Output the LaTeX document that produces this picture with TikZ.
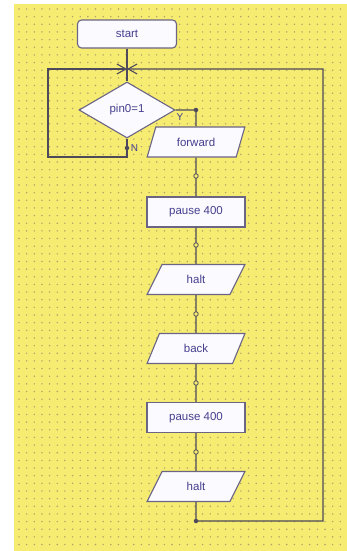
\documentclass[tikz,border=0pt]{standalone}
\usepackage{fontspec}
\setmainfont{Liberation Sans}
\usetikzlibrary{shapes.geometric,arrows.meta}
\definecolor{bgyellow}{HTML}{F6EC72}
\definecolor{griddot}{HTML}{ABA26C}
\definecolor{linec}{HTML}{4E4A5C}
\definecolor{shapec}{HTML}{6B6484}
\definecolor{textc}{HTML}{453E8E}
\definecolor{shapefill}{HTML}{FBFBFF}
\begin{document}
\begin{tikzpicture}[x=1pt,y=-1pt,
  box/.style={draw=shapec, line width=1.1pt, fill=shapefill, text=textc,
    font=\fontsize{11.5}{13}\selectfont, inner sep=0pt},
  termbox/.style={box, rectangle, rounded corners=4pt, minimum width=99pt, minimum height=28pt},
  procbox/.style={box, rectangle, minimum width=98pt, minimum height=30pt},
  iobox/.style={box, trapezium, trapezium left angle=64, trapezium right angle=116,
    trapezium stretches=true, minimum width=98pt, minimum height=30pt},
  decbox/.style={box, diamond, aspect=1.7, minimum width=96pt, minimum height=56pt},
  flow/.style={draw=linec, line width=1.1pt},
  meet/.style={flow, -{Straight Barb[length=9pt,width=10pt]}},
  ringjoint/.style={circle, draw=linec, line width=0.8pt, fill=bgyellow, inner sep=0pt, minimum size=4.5pt},
  dotjoint/.style={circle, fill=linec, inner sep=0pt, minimum size=4.5pt},
  lbl/.style={text=textc, font=\fontsize{10}{11}\selectfont, inner sep=0pt}
]
\useasboundingbox (0,0) rectangle (347,551);
\fill[white] (0,0) rectangle (347,551);
\fill[bgyellow] (14,4) rectangle (347,551);
\foreach \i in {0,...,42}{
  \foreach \j in {0,...,70}{
    \fill[griddot] ({19+7.65*\i},{9+7.65*\j}) circle (0.8pt);
  }
}

% nodes
\node[termbox] (start) at (127,34) {start};
\node[decbox] (dec) at (127,110) {pin0=1};
\node[iobox] (fwd) at (196,142) {forward};
\node[procbox] (p1) at (196,212) {pause 400};
\node[iobox] (h1) at (196,279.5) {halt};
\node[iobox] (back) at (196,348.5) {back};
\node[procbox] (p2) at (196,417.5) {pause 400};
\node[iobox] (h2) at (196,486.5) {halt};

% coordinates
\coordinate (J) at (127,69);
\coordinate (TL) at (48,69);
\coordinate (BL) at (48,157);
\coordinate (NB) at (127,157);
\coordinate (Ypt) at (196,110);
\coordinate (Bend) at (196,521);
\coordinate (BR) at (323,521);
\coordinate (TR) at (323,69);

% connectors
\draw[flow] (start.south) -- (dec.north);
\draw[flow] (dec.east) -- (Ypt) -- (fwd.north);
\draw[flow] (fwd.south) -- (p1.north);
\draw[flow] (p1.south) -- (h1.north);
\draw[flow] (h1.south) -- (back.north);
\draw[flow] (back.south) -- (p2.north);
\draw[flow] (p2.south) -- (h2.north);
\draw[meet] (dec.south) -- (NB) -- (BL) -- (TL) -- (J);
\draw[meet] (h2.south) -- (Bend) -- (BR) -- (TR) -- (J);

% joints
\node[dotjoint] (jy) at (Ypt) {};
\node[dotjoint] (jn) at (127,148) {};
\node[dotjoint] (jb) at (Bend) {};
\node[ringjoint] (j1) at (196,176) {};
\node[ringjoint] (j2) at (196,245) {};
\node[ringjoint] (j3) at (196,314) {};
\node[ringjoint] (j4) at (196,383) {};
\node[ringjoint] (j5) at (196,452) {};

% labels
\node[lbl] (ylbl) at (180,117) {Y};
\node[lbl] (nlbl) at (134.5,148) {N};
\end{tikzpicture}
\end{document}
